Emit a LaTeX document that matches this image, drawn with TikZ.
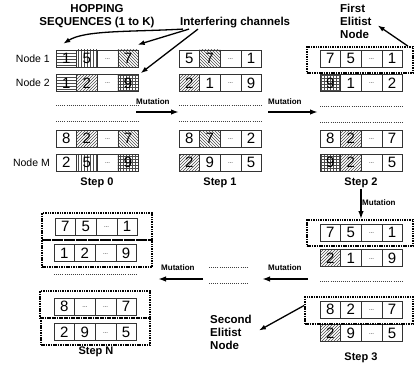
\documentclass[tikz,border=0pt]{standalone}
\usepackage{fontspec}
\setmainfont{Liberation Sans}
\usetikzlibrary{patterns,arrows.meta}
\newcommand{\ldt}{...}
\newcommand{\seqrow}[4]{\foreach \t/\p [count=\i] in {#4}{\node[cell,\p] (#1-\i) at ({#2+(\i-0.5)*20.6},#3) {\t};}}
\begin{document}
\begin{tikzpicture}[x=1pt,y=-1pt,
  cell/.style={draw=black!80, line width=0.6pt, minimum width=20.6pt, minimum height=17pt, inner sep=0pt, font=\fontsize{15}{15}\selectfont},
  pHL/.style={pattern=horizontal lines, pattern color=black!70},
  pVL/.style={pattern=vertical lines, pattern color=black!70},
  pNE/.style={pattern=north east lines, pattern color=black!70},
  pNW/.style={pattern=north west lines, pattern color=black!70},
  pGR/.style={pattern=grid, pattern color=black!70},
  pNo/.style={},
  pEl/.style={font=\fontsize{6}{6}\selectfont, text height=2pt, text depth=0pt},
  elit/.style={draw=black, line width=1.8pt, dash pattern=on 1.5pt off 0.9pt, inner sep=0pt},
  sep/.style={draw=black!75, line width=0.6pt, dash pattern=on 0.8pt off 1.3pt},
  arr/.style={-{Latex[length=7pt,width=5pt]}, line width=1.3pt},
  marr/.style={-{Latex[length=8pt,width=5.5pt]}, line width=1.6pt},
  hdr/.style={font=\bfseries\fontsize{11.5}{13}\selectfont, inner sep=1pt},
  stp/.style={font=\bfseries\fontsize{11}{13}\selectfont, inner sep=1pt},
  mut/.style={font=\bfseries\fontsize{8}{9}\selectfont, inner sep=0pt},
  lbl/.style={font=\fontsize{10.5}{12}\selectfont, inner sep=0pt}]
\useasboundingbox (0,0) rectangle (415,369);

% ---------- header texts ----------
\node[hdr, align=center] (hop) at (97,16) {HOPPING\\SEQUENCES (1 to K)};
\node[hdr, anchor=west] (intf) at (179,22.5) {Interfering channels};
\node[hdr, align=left, anchor=north west] (fe) at (339,3) {First\\Elitist\\Node};

% ---------- Step 0 ----------
\node[lbl, anchor=east] (n1) at (50,58.5) {Node 1};
\node[lbl, anchor=east] (n2) at (50,83) {Node 2};
\node[lbl, anchor=east] (nm) at (50,162.5) {Node M};
\seqrow{s0a}{56}{58.5}{1/pHL,5/pVL,\ldt/pEl,7/pNW}
\seqrow{s0b}{56}{83}{1/pHL,2/pNE,\ldt/pEl,9/pGR}
\seqrow{s0c}{56}{138.5}{8/pNo,2/pNE,\ldt/pEl,7/pNW}
\seqrow{s0d}{56}{162.5}{2/pNo,5/pVL,\ldt/pEl,9/pGR}
\coordinate (d0a1) at (56,105); \coordinate (d0a2) at (138,105);
\coordinate (d0b1) at (56,121); \coordinate (d0b2) at (138,121);
\draw[sep] (d0a1) -- (d0a2);
\draw[sep] (d0b1) -- (d0b2);
\node[stp] (st0) at (97,183) {Step 0};

% ---------- Step 1 ----------
\seqrow{s1a}{179}{58.5}{5/pNo,7/pNW,\ldt/pEl,1/pNo}
\seqrow{s1b}{179}{83}{2/pNE,1/pNo,\ldt/pEl,9/pNo}
\seqrow{s1c}{179}{138.5}{8/pNo,7/pNW,\ldt/pEl,2/pNo}
\seqrow{s1d}{179}{162.5}{2/pNE,9/pNo,\ldt/pEl,5/pNo}
\coordinate (d1a1) at (179,105); \coordinate (d1a2) at (261,105);
\coordinate (d1b1) at (179,121); \coordinate (d1b2) at (261,121);
\draw[sep] (d1a1) -- (d1a2);
\draw[sep] (d1b1) -- (d1b2);
\node[stp] (st1) at (220,183) {Step 1};

% ---------- Step 2 ----------
\seqrow{s2a}{320}{58.5}{7/pNo,5/pNo,\ldt/pEl,1/pNo}
\seqrow{s2b}{320}{83}{9/pGR,1/pNo,\ldt/pEl,2/pNo}
\seqrow{s2c}{320}{138.5}{8/pNo,2/pNE,\ldt/pEl,7/pNo}
\seqrow{s2d}{320}{162.5}{9/pGR,2/pNE,\ldt/pEl,5/pNo}
\node[elit, minimum width=106pt, minimum height=26pt] (e1) at (360,60) {};
\coordinate (d2a1) at (320,106); \coordinate (d2a2) at (402,106);
\coordinate (d2b1) at (320,122); \coordinate (d2b2) at (402,122);
\draw[sep] (d2a1) -- (d2a2);
\draw[sep] (d2b1) -- (d2b2);
\node[stp] (st2) at (361,183) {Step 2};

% ---------- Step 3 ----------
\seqrow{s3a}{320}{232.5}{7/pNo,5/pNo,\ldt/pEl,1/pNo}
\seqrow{s3b}{320}{258}{2/pNE,1/pNo,\ldt/pEl,9/pNo}
\seqrow{s3c}{320}{309.5}{8/pNo,2/pNo,\ldt/pEl,7/pNo}
\seqrow{s3d}{320}{333}{2/pNE,9/pNo,\ldt/pEl,5/pNo}
\node[elit, minimum width=106pt, minimum height=26pt] (e3a) at (360,233) {};
\node[elit, minimum width=108pt, minimum height=27pt] (e3b) at (359,310.5) {};
\coordinate (d3a1) at (320,281); \coordinate (d3a2) at (402,281);
\draw[sep] (d3a1) -- (d3a2);
\node[stp] (st3) at (361,358) {Step 3};
\node[hdr, align=left, anchor=west] (se) at (209,332.5) {Second\\Elitist\\Node};

% ---------- Step N ----------
\seqrow{sNa}{55}{226.5}{7/pNo,5/pNo,\ldt/pEl,1/pNo}
\seqrow{sNb}{54}{253}{1/pNo,2/pNo,\ldt/pEl,9/pNo}
\seqrow{sNc}{54}{306.5}{8/pNo,\ldt/pEl,\ldt/pEl,7/pNo}
\seqrow{sNd}{54}{332}{2/pNo,9/pNo,\ldt/pEl,5/pNo}
\node[elit, minimum width=110pt, minimum height=27pt] (eNa) at (97,226.5) {};
\node[elit, minimum width=110pt, minimum height=27pt] (eNb) at (97,253.5) {};
\node[elit, minimum width=110pt, minimum height=27pt] (eNc) at (95,304.5) {};
\node[elit, minimum width=109pt, minimum height=27pt] (eNd) at (95.5,331.5) {};
\coordinate (dN1) at (54,274); \coordinate (dN2) at (136,274);
\draw[sep] (dN1) -- (dN2);
\node[stp] (stN) at (96,352) {Step N};

% ---------- middle bottom dotted ----------
\coordinate (dm1a) at (209,267); \coordinate (dm1b) at (247,267);
\coordinate (dm2a) at (209,283); \coordinate (dm2b) at (247,283);
\draw[sep] (dm1a) -- (dm1b);
\draw[sep] (dm2a) -- (dm2b);

% ---------- mutation arrows ----------
\coordinate (m1s) at (136,112); \coordinate (m1e) at (179,112);
\draw[marr] (m1s) -- (m1e);
\node[mut, anchor=west] (m1l) at (136,102) {Mutation};
\coordinate (m2s) at (268,112); \coordinate (m2e) at (318,112);
\draw[marr] (m2s) -- (m2e);
\node[mut, anchor=west] (m2l) at (268,102) {Mutation};
\draw[marr] (st2.south) -- (e3a.north -| st2.south);
\node[mut, anchor=west] (m3l) at (362,203) {Mutation};
\coordinate (m4s) at (308,279); \coordinate (m4e) at (262,279);
\draw[marr] (m4s) -- (m4e);
\node[mut, anchor=west] (m4l) at (268,268) {Mutation};
\coordinate (m5s) at (203,279); \coordinate (m5e) at (158,279);
\draw[marr] (m5s) -- (m5e);
\node[mut, anchor=west] (m5l) at (161,268) {Mutation};

% ---------- annotation arrows ----------
\draw[arr] ([xshift=4pt]intf.south west) .. controls (130,32) and (85,30) .. ([xshift=-3pt,yshift=6pt]s0a-1.north);
\draw[arr] ([xshift=10pt]intf.south west) -- ([xshift=-1pt,yshift=5pt]s0a-4.north east);
\draw[arr] ([xshift=19pt]intf.south west) -- ([xshift=2pt,yshift=1pt]s0b-4.north east);
\draw[arr] ([xshift=-6pt]e1.north east) -- ([xshift=5pt,yshift=-4pt]fe.east);
\draw[arr] ([yshift=5pt]e3b.west) -- ([xshift=6pt,yshift=2pt]se.east);
\end{tikzpicture}
\end{document}
